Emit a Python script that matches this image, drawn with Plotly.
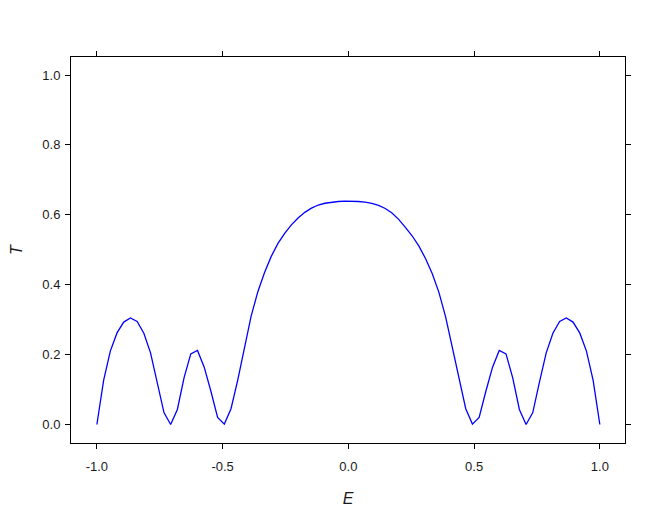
import plotly.graph_objects as go

# energy grid (76 samples between -1 and 1)
energy = [
    -1.0000, -0.9733, -0.9467, -0.9200, -0.8933, -0.8667, -0.8400, -0.8133,
    -0.7867, -0.7600, -0.7333, -0.7067, -0.6800, -0.6533, -0.6267, -0.6000,
    -0.5733, -0.5467, -0.5200, -0.4933, -0.4667, -0.4400, -0.4133, -0.3867,
    -0.3600, -0.3333, -0.3067, -0.2800, -0.2533, -0.2267, -0.2000, -0.1733,
    -0.1467, -0.1200, -0.0933, -0.0667, -0.0400, -0.0133,
    0.0133, 0.0400, 0.0667, 0.0933, 0.1200, 0.1467, 0.1733, 0.2000,
    0.2267, 0.2533, 0.2800, 0.3067, 0.3333, 0.3600, 0.3867, 0.4133,
    0.4400, 0.4667, 0.4933, 0.5200, 0.5467, 0.5733, 0.6000, 0.6267,
    0.6533, 0.6800, 0.7067, 0.7333, 0.7600, 0.7867, 0.8133, 0.8400,
    0.8667, 0.8933, 0.9200, 0.9467, 0.9733, 1.0000,
]

# transmission
transmission = [
    0.000, 0.126, 0.210, 0.262, 0.293, 0.305, 0.295, 0.261,
    0.205, 0.122, 0.034, 0.000, 0.043, 0.134, 0.202, 0.212,
    0.164, 0.095, 0.020, 0.001, 0.045, 0.127, 0.222, 0.310,
    0.380, 0.435, 0.481, 0.518, 0.547, 0.571, 0.591, 0.607,
    0.619, 0.628, 0.633, 0.636, 0.638, 0.639,
    0.639, 0.638, 0.636, 0.633, 0.627, 0.618, 0.605, 0.587,
    0.564, 0.540, 0.511, 0.475, 0.432, 0.378, 0.308, 0.220,
    0.127, 0.045, 0.001, 0.020, 0.095, 0.164, 0.212, 0.202,
    0.134, 0.043, 0.000, 0.034, 0.122, 0.205, 0.261, 0.295,
    0.305, 0.293, 0.262, 0.210, 0.126, 0.000,
]

x_ticks = [-1.0, -0.5, 0.0, 0.5, 1.0]
x_labels = ["-1.0", "-0.5", "0.0", "0.5", "1.0"]
y_ticks = [0.0, 0.2, 0.4, 0.6, 0.8, 1.0]
y_labels = ["0.0", "0.2", "0.4", "0.6", "0.8", "1.0"]

font_family = "Liberation Sans, Arial"

fig = go.Figure()
fig.add_trace(
    go.Scatter(
        x=energy,
        y=transmission,
        mode="lines",
        line=dict(color="#0000ff", width=1.3),
        showlegend=False,
    )
)

axis_style = dict(
    showline=True,
    linecolor="black",
    linewidth=1,
    mirror="ticks",
    ticks="outside",
    ticklen=5,
    tickwidth=1,
    tickcolor="black",
    showgrid=False,
    zeroline=False,
    automargin=False,
    tickfont=dict(family=font_family, size=13, color="#1a1a1a"),
)

fig.update_xaxes(
    **axis_style,
    range=[-1.103, 1.10],
    tickvals=x_ticks,
    ticktext=x_labels,
    ticklabelstandoff=6,
    title=dict(text="<i>E</i>", font=dict(family=font_family, size=16, color="#1a1a1a"), standoff=20),
)
fig.update_yaxes(
    **axis_style,
    range=[-0.053, 1.0515],
    tickvals=y_ticks,
    ticktext=y_labels,
    ticklabelstandoff=2,
    title=dict(text="<i>T</i>", font=dict(family=font_family, size=16, color="#1a1a1a"), standoff=23),
)

# the page body adds an 8px margin, so the margins are shifted to compensate
fig.update_layout(
    width=654,
    height=510,
    margin=dict(l=63, r=37, t=49, b=75),
    plot_bgcolor="white",
    paper_bgcolor="white",
)

fig.write_html("out.html")
